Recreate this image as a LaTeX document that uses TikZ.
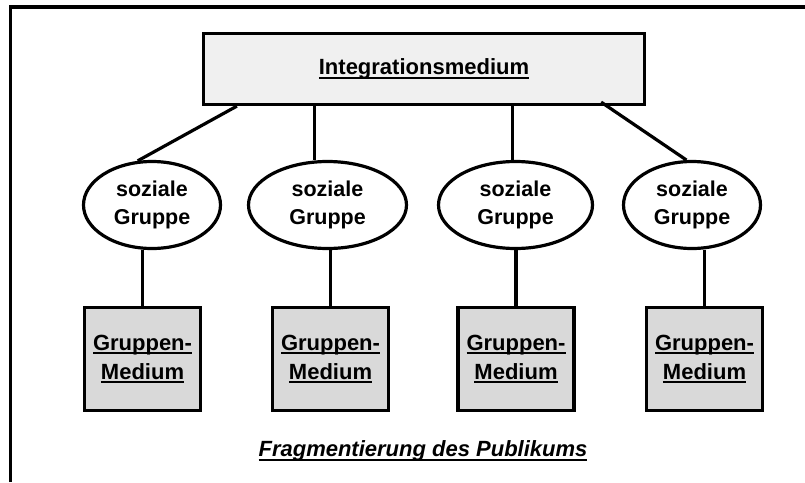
\documentclass[tikz,border=0pt]{standalone}
\usepackage{fontspec}
\setmainfont{Liberation Sans}
\usetikzlibrary{shapes.geometric}
\newcommand{\ulword}[1]{\setbox0\hbox{#1}\rlap{\rule[-0.18em]{\wd0}{0.09em}}\box0}

\begin{document}
\begin{tikzpicture}[
   x=1pt,y=-1pt,
   font=\bfseries\fontsize{21.5}{28.5}\selectfont,
   line width=3.2pt,
   top/.style={draw,fill=black!6,minimum width=441pt,minimum height=71pt,inner sep=0pt},
   gruppe/.style={draw,ellipse,align=center,minimum height=87pt,inner sep=0pt},
   medium/.style={draw,fill=black!15,align=center,minimum width=116pt,minimum height=103pt,inner sep=0pt,
                  font=\bfseries\fontsize{22}{29}\selectfont},
   link/.style={line width=3.2pt}]
\useasboundingbox (0,0) rectangle (805,482);
\draw (10.5,482) -- (10.5,7) -- (805,7);
\node[top] (IM) at (424,69) {\fontsize{22}{26}\selectfont\ulword{Integrationsmedium}};
\node[gruppe,minimum width=137pt] (G1) at (152,205) {soziale\\Gruppe};
\node[gruppe,minimum width=158pt] (G2) at (327.5,205) {soziale\\Gruppe};
\node[gruppe,minimum width=154pt] (G3) at (515.5,205) {soziale\\Gruppe};
\node[gruppe,minimum width=137pt] (G4) at (692,205) {soziale\\Gruppe};
\node[medium] (M1) at (142.5,359) {\ulword{Gruppen-}\\\ulword{Medium}};
\node[medium] (M2) at (330.5,359) {\ulword{Gruppen-}\\\ulword{Medium}};
\node[medium] (M3) at (516,359) {\ulword{Gruppen-}\\\ulword{Medium}};
\node[medium] (M4) at (704.5,359) {\ulword{Gruppen-}\\\ulword{Medium}};
\node (FP) at (423,451) {\fontsize{22}{26}\selectfont\itshape\ulword{Fragmentierung des Publikums}};
\coordinate (IMl) at ([xshift=35pt]IM.south west);
\coordinate (IMr) at ([xshift=-45pt,yshift=4pt]IM.south east);
\draw[link] (IMl) -- (G1.108);
\draw[link] (G2.106) -- (G2.106 |- IM.south);
\draw[link] (G3.94) -- (G3.94 |- IM.south);
\draw[link] (IMr) -- (G4.97);
\draw[link] (M1.north) -- (M1.north |- G1.south);
\draw[link] (M2.north) -- (M2.north |- G2.south);
\draw[link] (M3.north) -- (M3.north |- G3.south);
\draw[link] (M4.north) -- (M4.north |- G4.south);
\end{tikzpicture}
\end{document}
